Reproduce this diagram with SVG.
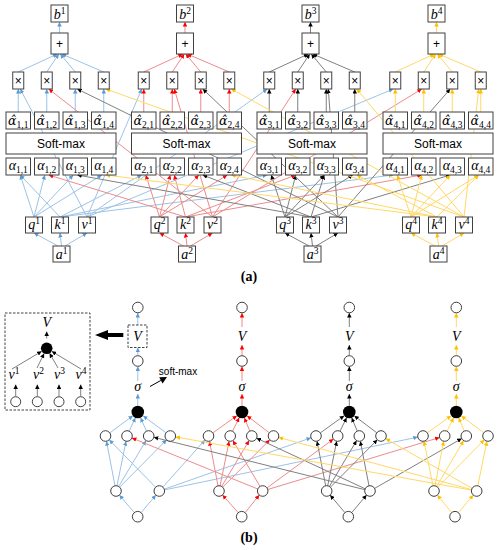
<svg xmlns="http://www.w3.org/2000/svg" width="499" height="550" viewBox="0 0 499 550">
<style>
line{stroke-width:1;fill:none}
.cb{stroke:#9DC3E6;marker-end:url(#ab)}
.cr{stroke:#EC8C8C;marker-end:url(#ar)}
.cg{stroke:#808080;marker-end:url(#ag)}
.cy{stroke:#FFD966;marker-end:url(#ay)}
.bx{fill:#fff;stroke:#404040;stroke-width:1}
.cc{fill:#fff;stroke:#404040;stroke-width:1}
.bk{fill:#000}
.ds{fill:none;stroke:#404040;stroke-width:1;stroke-dasharray:2.5,1.5}
.m{font-family:"Liberation Serif",serif;font-style:italic;font-size:14px;fill:#000}
.ht{font-family:"DejaVu Serif",serif;font-size:12.5px}
.sb{font-size:9.5px;font-style:normal}
.sp{font-size:9.5px;font-style:normal}
.sans{font-family:"Liberation Sans",sans-serif;fill:#000}
.op{font-family:"Liberation Sans",sans-serif;font-size:12px;fill:#000}
.cap{font-family:"Liberation Serif",serif;font-weight:bold;font-size:14px;fill:#000}
text{text-anchor:middle}
</style>
<defs>
<marker id="ab" markerUnits="userSpaceOnUse" markerWidth="4.5" markerHeight="4.5" viewBox="0 0 10 10" refX="10" refY="5" orient="auto"><path d="M0,0 L10,5 L0,10z" fill="#5B9BD5"/></marker>
<marker id="ar" markerUnits="userSpaceOnUse" markerWidth="4.5" markerHeight="4.5" viewBox="0 0 10 10" refX="10" refY="5" orient="auto"><path d="M0,0 L10,5 L0,10z" fill="#FF0000"/></marker>
<marker id="ag" markerUnits="userSpaceOnUse" markerWidth="4.5" markerHeight="4.5" viewBox="0 0 10 10" refX="10" refY="5" orient="auto"><path d="M0,0 L10,5 L0,10z" fill="#000"/></marker>
<marker id="ay" markerUnits="userSpaceOnUse" markerWidth="4.5" markerHeight="4.5" viewBox="0 0 10 10" refX="10" refY="5" orient="auto"><path d="M0,0 L10,5 L0,10z" fill="#FFC000"/></marker>
</defs>
<rect width="499" height="550" fill="#fff"/>

<g id="connectors">
<g id="conn-a">
<line class="cb" x1="58" y1="246" x2="34" y2="233"/>
<line class="cb" x1="61.5" y1="246" x2="60" y2="233"/>
<line class="cb" x1="65" y1="246" x2="87" y2="233"/>
<line class="cb" x1="34" y1="217" x2="20.25" y2="175"/>
<line class="cb" x1="34" y1="217" x2="44.75" y2="175"/>
<line class="cb" x1="34" y1="217" x2="73.25" y2="175"/>
<line class="cb" x1="34" y1="217" x2="101.75" y2="175"/>
<line class="cb" x1="60" y1="217" x2="20.25" y2="175"/>
<line class="cb" x1="60" y1="217" x2="141.75" y2="175"/>
<line class="cb" x1="60" y1="217" x2="267.25" y2="175"/>
<line class="cb" x1="60" y1="217" x2="393.25" y2="175"/>
<line class="cb" x1="87" y1="217" x2="20.25" y2="89"/>
<line class="cb" x1="87" y1="217" x2="141.75" y2="89"/>
<line class="cb" x1="87" y1="217" x2="267.25" y2="89"/>
<line class="cb" x1="87" y1="217" x2="393.25" y2="89"/>
<line class="cb" x1="18.25" y1="112" x2="18.25" y2="89"/>
<line class="cb" x1="46.75" y1="112" x2="46.75" y2="89"/>
<line class="cb" x1="75.25" y1="112" x2="75.25" y2="89"/>
<line class="cb" x1="103.75" y1="112" x2="103.75" y2="89"/>
<line class="cb" x1="18.25" y1="72" x2="57.25" y2="54"/>
<line class="cb" x1="46.75" y1="72" x2="58.75" y2="54"/>
<line class="cb" x1="75.25" y1="72" x2="60.25" y2="54"/>
<line class="cb" x1="103.75" y1="72" x2="61.75" y2="54"/>
<line class="cb" x1="59.5" y1="33" x2="59.5" y2="22"/>
<line class="cr" x1="183.5" y1="246" x2="159.5" y2="233"/>
<line class="cr" x1="187" y1="246" x2="185.5" y2="233"/>
<line class="cr" x1="190.5" y1="246" x2="212.5" y2="233"/>
<line class="cr" x1="159.5" y1="217" x2="145.75" y2="175"/>
<line class="cr" x1="159.5" y1="217" x2="170.25" y2="175"/>
<line class="cr" x1="159.5" y1="217" x2="198.75" y2="175"/>
<line class="cr" x1="159.5" y1="217" x2="227.25" y2="175"/>
<line class="cr" x1="185.5" y1="217" x2="48.75" y2="175"/>
<line class="cr" x1="185.5" y1="217" x2="174.25" y2="175"/>
<line class="cr" x1="185.5" y1="217" x2="295.75" y2="175"/>
<line class="cr" x1="185.5" y1="217" x2="421.75" y2="175"/>
<line class="cr" x1="212.5" y1="217" x2="48.75" y2="89"/>
<line class="cr" x1="212.5" y1="217" x2="174.25" y2="89"/>
<line class="cr" x1="212.5" y1="217" x2="295.75" y2="89"/>
<line class="cr" x1="212.5" y1="217" x2="421.75" y2="89"/>
<line class="cr" x1="143.75" y1="112" x2="143.75" y2="89"/>
<line class="cr" x1="172.25" y1="112" x2="172.25" y2="89"/>
<line class="cr" x1="200.75" y1="112" x2="200.75" y2="89"/>
<line class="cr" x1="229.25" y1="112" x2="229.25" y2="89"/>
<line class="cr" x1="143.75" y1="72" x2="182.75" y2="54"/>
<line class="cr" x1="172.25" y1="72" x2="184.25" y2="54"/>
<line class="cr" x1="200.75" y1="72" x2="185.75" y2="54"/>
<line class="cr" x1="229.25" y1="72" x2="187.25" y2="54"/>
<line class="cr" x1="185" y1="33" x2="185" y2="22"/>
<line class="cg" x1="309" y1="246" x2="285" y2="233"/>
<line class="cg" x1="312.5" y1="246" x2="311" y2="233"/>
<line class="cg" x1="316" y1="246" x2="338" y2="233"/>
<line class="cg" x1="285" y1="217" x2="271.25" y2="175"/>
<line class="cg" x1="285" y1="217" x2="295.75" y2="175"/>
<line class="cg" x1="285" y1="217" x2="324.25" y2="175"/>
<line class="cg" x1="285" y1="217" x2="352.75" y2="175"/>
<line class="cg" x1="311" y1="217" x2="77.25" y2="175"/>
<line class="cg" x1="311" y1="217" x2="202.75" y2="175"/>
<line class="cg" x1="311" y1="217" x2="324.25" y2="175"/>
<line class="cg" x1="311" y1="217" x2="450.25" y2="175"/>
<line class="cg" x1="338" y1="217" x2="77.25" y2="89"/>
<line class="cg" x1="338" y1="217" x2="202.75" y2="89"/>
<line class="cg" x1="338" y1="217" x2="328.25" y2="89"/>
<line class="cg" x1="338" y1="217" x2="450.25" y2="89"/>
<line class="cg" x1="269.25" y1="112" x2="269.25" y2="89"/>
<line class="cg" x1="297.75" y1="112" x2="297.75" y2="89"/>
<line class="cg" x1="326.25" y1="112" x2="326.25" y2="89"/>
<line class="cg" x1="354.75" y1="112" x2="354.75" y2="89"/>
<line class="cg" x1="269.25" y1="72" x2="308.25" y2="54"/>
<line class="cg" x1="297.75" y1="72" x2="309.75" y2="54"/>
<line class="cg" x1="326.25" y1="72" x2="311.25" y2="54"/>
<line class="cg" x1="354.75" y1="72" x2="312.75" y2="54"/>
<line class="cg" x1="310.5" y1="33" x2="310.5" y2="22"/>
<line class="cy" x1="435" y1="246" x2="411" y2="233"/>
<line class="cy" x1="438.5" y1="246" x2="437" y2="233"/>
<line class="cy" x1="442" y1="246" x2="464" y2="233"/>
<line class="cy" x1="411" y1="217" x2="397.25" y2="175"/>
<line class="cy" x1="411" y1="217" x2="421.75" y2="175"/>
<line class="cy" x1="411" y1="217" x2="450.25" y2="175"/>
<line class="cy" x1="411" y1="217" x2="478.75" y2="175"/>
<line class="cy" x1="437" y1="217" x2="105.75" y2="175"/>
<line class="cy" x1="437" y1="217" x2="231.25" y2="175"/>
<line class="cy" x1="437" y1="217" x2="356.75" y2="175"/>
<line class="cy" x1="437" y1="217" x2="478.75" y2="175"/>
<line class="cy" x1="464" y1="217" x2="105.75" y2="89"/>
<line class="cy" x1="464" y1="217" x2="231.25" y2="89"/>
<line class="cy" x1="464" y1="217" x2="356.75" y2="89"/>
<line class="cy" x1="464" y1="217" x2="478.75" y2="89"/>
<line class="cy" x1="395.25" y1="112" x2="395.25" y2="89"/>
<line class="cy" x1="423.75" y1="112" x2="423.75" y2="89"/>
<line class="cy" x1="452.25" y1="112" x2="452.25" y2="89"/>
<line class="cy" x1="480.75" y1="112" x2="480.75" y2="89"/>
<line class="cy" x1="395.25" y1="72" x2="434.25" y2="54"/>
<line class="cy" x1="423.75" y1="72" x2="435.75" y2="54"/>
<line class="cy" x1="452.25" y1="72" x2="437.25" y2="54"/>
<line class="cy" x1="480.75" y1="72" x2="438.75" y2="54"/>
<line class="cy" x1="436.5" y1="33" x2="436.5" y2="22"/>
</g>
<g id="conn-b">
<line class="cb" x1="134.3" y1="512.6" x2="119.4" y2="495.1"/>
<line class="cb" x1="141.1" y1="512.6" x2="155.9" y2="495.1"/>
<line class="cb" x1="115" y1="485.8" x2="106.5" y2="441.2"/>
<line class="cb" x1="117" y1="485.8" x2="126" y2="441.2"/>
<line class="cb" x1="118.7" y1="486.4" x2="146" y2="440.6"/>
<line class="cb" x1="119.7" y1="487.2" x2="166.6" y2="439.8"/>
<line class="cb" x1="155.6" y1="487.2" x2="109.2" y2="439.8"/>
<line class="cb" x1="162.8" y1="487.1" x2="205" y2="439.9"/>
<line class="cb" x1="164.3" y1="489.2" x2="311" y2="437.8"/>
<line class="cb" x1="164.5" y1="489.9" x2="417.8" y2="437.1"/>
<line class="cb" x1="109.8" y1="432.9" x2="132.9" y2="415.7"/>
<line class="cb" x1="129.2" y1="431.2" x2="135.4" y2="417.7"/>
<line class="cb" x1="146.5" y1="431.2" x2="140.6" y2="417.8"/>
<line class="cb" x1="166" y1="432.8" x2="143.1" y2="415.8"/>
<line class="cb" x1="137.8" y1="405.5" x2="137.8" y2="394"/>
<line class="cb" x1="137.8" y1="381" x2="137.8" y2="366.5"/>
<line class="cb" x1="137.8" y1="355.5" x2="137.8" y2="347.7"/>
<line class="cb" x1="137.8" y1="325" x2="137.8" y2="313"/>
<line class="cr" x1="238.2" y1="512.7" x2="222.5" y2="495"/>
<line class="cr" x1="245.1" y1="512.6" x2="259.3" y2="495.1"/>
<line class="cr" x1="218" y1="485.8" x2="209.5" y2="441.2"/>
<line class="cr" x1="220.1" y1="485.8" x2="229.1" y2="441.2"/>
<line class="cr" x1="221.7" y1="486.4" x2="249.1" y2="440.6"/>
<line class="cr" x1="222.7" y1="487.2" x2="269.8" y2="439.8"/>
<line class="cr" x1="257.8" y1="489" x2="131.9" y2="438"/>
<line class="cr" x1="260" y1="486.4" x2="232.9" y2="440.6"/>
<line class="cr" x1="267" y1="487.9" x2="333.4" y2="439.1"/>
<line class="cr" x1="267.8" y1="489.5" x2="439.6" y2="437.5"/>
<line class="cr" x1="212.8" y1="432.9" x2="236.9" y2="415.7"/>
<line class="cr" x1="232.5" y1="431.2" x2="239.2" y2="417.7"/>
<line class="cr" x1="249.8" y1="431.1" x2="244.4" y2="417.8"/>
<line class="cr" x1="269.3" y1="432.8" x2="247" y2="415.8"/>
<line class="cr" x1="242" y1="405.5" x2="242" y2="394"/>
<line class="cr" x1="242" y1="381" x2="242" y2="366.5"/>
<line class="cr" x1="242" y1="355.5" x2="242" y2="345"/>
<line class="cr" x1="242" y1="327" x2="242" y2="313"/>
<line class="cg" x1="344.9" y1="512.6" x2="330.1" y2="495.1"/>
<line class="cg" x1="351.7" y1="512.6" x2="366.6" y2="495.1"/>
<line class="cg" x1="325.7" y1="485.8" x2="317" y2="441.2"/>
<line class="cg" x1="327.7" y1="485.8" x2="336.7" y2="441.2"/>
<line class="cg" x1="329.4" y1="486.4" x2="356.6" y2="440.6"/>
<line class="cg" x1="330.4" y1="487.2" x2="377.3" y2="439.8"/>
<line class="cg" x1="364.9" y1="489.7" x2="153.8" y2="437.3"/>
<line class="cg" x1="365.2" y1="488.8" x2="256.6" y2="438.2"/>
<line class="cg" x1="369" y1="485.8" x2="360.3" y2="441.2"/>
<line class="cg" x1="374.6" y1="488.4" x2="461.7" y2="438.6"/>
<line class="cg" x1="320.3" y1="432.9" x2="344.2" y2="415.7"/>
<line class="cg" x1="340" y1="431.2" x2="346.6" y2="417.7"/>
<line class="cg" x1="357.3" y1="431.1" x2="351.7" y2="417.8"/>
<line class="cg" x1="376.8" y1="432.8" x2="354.3" y2="415.8"/>
<line class="cg" x1="349.3" y1="405.5" x2="349.3" y2="394"/>
<line class="cg" x1="349.3" y1="381" x2="349.3" y2="366.5"/>
<line class="cg" x1="349.3" y1="355.5" x2="349.3" y2="345"/>
<line class="cg" x1="349.3" y1="327" x2="349.3" y2="313"/>
<line class="cy" x1="451.6" y1="512.6" x2="437.4" y2="495.1"/>
<line class="cy" x1="458.4" y1="512.6" x2="473.3" y2="495.1"/>
<line class="cy" x1="433" y1="485.8" x2="424" y2="441.2"/>
<line class="cy" x1="435" y1="485.8" x2="443.7" y2="441.2"/>
<line class="cy" x1="436.7" y1="486.4" x2="463.6" y2="440.6"/>
<line class="cy" x1="437.7" y1="487.2" x2="484.3" y2="439.8"/>
<line class="cy" x1="471.5" y1="490.1" x2="175.5" y2="436.9"/>
<line class="cy" x1="471.6" y1="489.6" x2="278.6" y2="437.4"/>
<line class="cy" x1="472.1" y1="488.4" x2="385.6" y2="438.6"/>
<line class="cy" x1="477.8" y1="485.8" x2="486.9" y2="441.2"/>
<line class="cy" x1="427.3" y1="432.9" x2="451.2" y2="415.7"/>
<line class="cy" x1="447" y1="431.2" x2="453.6" y2="417.7"/>
<line class="cy" x1="464.3" y1="431.1" x2="458.7" y2="417.8"/>
<line class="cy" x1="483.8" y1="432.8" x2="461.3" y2="415.8"/>
<line class="cy" x1="456.3" y1="405.5" x2="456.3" y2="394"/>
<line class="cy" x1="456.3" y1="381" x2="456.3" y2="366.5"/>
<line class="cy" x1="456.3" y1="355.5" x2="456.3" y2="345"/>
<line class="cy" x1="456.3" y1="327" x2="456.3" y2="313"/>
<line class="cg" x1="12" y1="369" x2="41.7" y2="351.3"/>
<line class="cg" x1="37" y1="368" x2="44.1" y2="353.5"/>
<line class="cg" x1="58" y1="368" x2="49.6" y2="353.3"/>
<line class="cg" x1="81" y1="369" x2="51.7" y2="351.3"/>
<line class="cg" x1="46.7" y1="338.5" x2="46.7" y2="331.5"/>
<line class="cg" x1="15.7" y1="396" x2="15.7" y2="384.5"/>
<line class="cg" x1="37.3" y1="396" x2="37.3" y2="384.5"/>
<line class="cg" x1="59" y1="396" x2="59" y2="384.5"/>
<line class="cg" x1="80.7" y1="396" x2="80.7" y2="384.5"/>
</g>
</g>

<g id="g1">
<g id="b1"><rect class="bx" x="51" y="5" width="17" height="17"/><text class="m" x="59.5" y="18.5">b<tspan class="sp" dy="-5">1</tspan></text></g>
<g id="plus1"><rect class="bx" x="51" y="33" width="17" height="21"/><text class="op" x="59.5" y="48">+</text></g>
<g id="x11"><rect class="bx" x="12.75" y="72" width="11" height="17"/><text class="op" x="18.25" y="84.5">×</text></g>
<g id="x12"><rect class="bx" x="41.25" y="72" width="11" height="17"/><text class="op" x="46.75" y="84.5">×</text></g>
<g id="x13"><rect class="bx" x="69.75" y="72" width="11" height="17"/><text class="op" x="75.25" y="84.5">×</text></g>
<g id="x14"><rect class="bx" x="98.25" y="72" width="11" height="17"/><text class="op" x="103.75" y="84.5">×</text></g>
<g id="ah11"><rect class="bx" x="6" y="112" width="24.5" height="17"/><text class="m" x="18.25" y="124.5"><tspan class="ht">α̂</tspan><tspan class="sb" dy="3">1,1</tspan></text></g>
<g id="ah12"><rect class="bx" x="34.5" y="112" width="24.5" height="17"/><text class="m" x="46.75" y="124.5"><tspan class="ht">α̂</tspan><tspan class="sb" dy="3">1,2</tspan></text></g>
<g id="ah13"><rect class="bx" x="63" y="112" width="24.5" height="17"/><text class="m" x="75.25" y="124.5"><tspan class="ht">α̂</tspan><tspan class="sb" dy="3">1,3</tspan></text></g>
<g id="ah14"><rect class="bx" x="91.5" y="112" width="24.5" height="17"/><text class="m" x="103.75" y="124.5"><tspan class="ht">α̂</tspan><tspan class="sb" dy="3">1,4</tspan></text></g>
<g id="sm1"><rect class="bx" x="6" y="133" width="110" height="21"/><text class="sans" font-size="12" x="61" y="148">Soft-max</text></g>
<g id="a11"><rect class="bx" x="6" y="158" width="24.5" height="17"/><text class="m" x="18.25" y="170">α<tspan class="sb" dy="3">1,1</tspan></text></g>
<g id="a12"><rect class="bx" x="34.5" y="158" width="24.5" height="17"/><text class="m" x="46.75" y="170">α<tspan class="sb" dy="3">1,2</tspan></text></g>
<g id="a13"><rect class="bx" x="63" y="158" width="24.5" height="17"/><text class="m" x="75.25" y="170">α<tspan class="sb" dy="3">1,3</tspan></text></g>
<g id="a14"><rect class="bx" x="91.5" y="158" width="24.5" height="17"/><text class="m" x="103.75" y="170">α<tspan class="sb" dy="3">1,4</tspan></text></g>
<g id="q1"><rect class="bx" x="25.5" y="217" width="17" height="16"/><text class="m" x="34" y="228.5">q<tspan class="sp" dy="-5">1</tspan></text></g>
<g id="k1"><rect class="bx" x="51.5" y="217" width="17" height="16"/><text class="m" x="60" y="229">k<tspan class="sp" dy="-5">1</tspan></text></g>
<g id="v1"><rect class="bx" x="78.5" y="217" width="17" height="16"/><text class="m" x="87" y="229">v<tspan class="sp" dy="-5">1</tspan></text></g>
<g id="in1"><rect class="bx" x="53" y="246" width="17" height="16"/><text class="m" x="61.5" y="258.5">a<tspan class="sp" dy="-5">1</tspan></text></g>
</g>

<g id="g2">
<g id="b2"><rect class="bx" x="176.5" y="5" width="17" height="17"/><text class="m" x="185" y="18.5">b<tspan class="sp" dy="-5">2</tspan></text></g>
<g id="plus2"><rect class="bx" x="176.5" y="33" width="17" height="21"/><text class="op" x="185" y="48">+</text></g>
<g id="x21"><rect class="bx" x="138.25" y="72" width="11" height="17"/><text class="op" x="143.75" y="84.5">×</text></g>
<g id="x22"><rect class="bx" x="166.75" y="72" width="11" height="17"/><text class="op" x="172.25" y="84.5">×</text></g>
<g id="x23"><rect class="bx" x="195.25" y="72" width="11" height="17"/><text class="op" x="200.75" y="84.5">×</text></g>
<g id="x24"><rect class="bx" x="223.75" y="72" width="11" height="17"/><text class="op" x="229.25" y="84.5">×</text></g>
<g id="ah21"><rect class="bx" x="131.5" y="112" width="24.5" height="17"/><text class="m" x="143.75" y="124.5"><tspan class="ht">α̂</tspan><tspan class="sb" dy="3">2,1</tspan></text></g>
<g id="ah22"><rect class="bx" x="160" y="112" width="24.5" height="17"/><text class="m" x="172.25" y="124.5"><tspan class="ht">α̂</tspan><tspan class="sb" dy="3">2,2</tspan></text></g>
<g id="ah23"><rect class="bx" x="188.5" y="112" width="24.5" height="17"/><text class="m" x="200.75" y="124.5"><tspan class="ht">α̂</tspan><tspan class="sb" dy="3">2,3</tspan></text></g>
<g id="ah24"><rect class="bx" x="217" y="112" width="24.5" height="17"/><text class="m" x="229.25" y="124.5"><tspan class="ht">α̂</tspan><tspan class="sb" dy="3">2,4</tspan></text></g>
<g id="sm2"><rect class="bx" x="131.5" y="133" width="110" height="21"/><text class="sans" font-size="12" x="186.5" y="148">Soft-max</text></g>
<g id="a21"><rect class="bx" x="131.5" y="158" width="24.5" height="17"/><text class="m" x="143.75" y="170">α<tspan class="sb" dy="3">2,1</tspan></text></g>
<g id="a22"><rect class="bx" x="160" y="158" width="24.5" height="17"/><text class="m" x="172.25" y="170">α<tspan class="sb" dy="3">2,2</tspan></text></g>
<g id="a23"><rect class="bx" x="188.5" y="158" width="24.5" height="17"/><text class="m" x="200.75" y="170">α<tspan class="sb" dy="3">2,3</tspan></text></g>
<g id="a24"><rect class="bx" x="217" y="158" width="24.5" height="17"/><text class="m" x="229.25" y="170">α<tspan class="sb" dy="3">2,4</tspan></text></g>
<g id="q2"><rect class="bx" x="151" y="217" width="17" height="16"/><text class="m" x="159.5" y="228.5">q<tspan class="sp" dy="-5">2</tspan></text></g>
<g id="k2"><rect class="bx" x="177" y="217" width="17" height="16"/><text class="m" x="185.5" y="229">k<tspan class="sp" dy="-5">2</tspan></text></g>
<g id="v2"><rect class="bx" x="204" y="217" width="17" height="16"/><text class="m" x="212.5" y="229">v<tspan class="sp" dy="-5">2</tspan></text></g>
<g id="in2"><rect class="bx" x="178.5" y="246" width="17" height="16"/><text class="m" x="187" y="258.5">a<tspan class="sp" dy="-5">2</tspan></text></g>
</g>

<g id="g3">
<g id="b3"><rect class="bx" x="302" y="5" width="17" height="17"/><text class="m" x="310.5" y="18.5">b<tspan class="sp" dy="-5">3</tspan></text></g>
<g id="plus3"><rect class="bx" x="302" y="33" width="17" height="21"/><text class="op" x="310.5" y="48">+</text></g>
<g id="x31"><rect class="bx" x="263.75" y="72" width="11" height="17"/><text class="op" x="269.25" y="84.5">×</text></g>
<g id="x32"><rect class="bx" x="292.25" y="72" width="11" height="17"/><text class="op" x="297.75" y="84.5">×</text></g>
<g id="x33"><rect class="bx" x="320.75" y="72" width="11" height="17"/><text class="op" x="326.25" y="84.5">×</text></g>
<g id="x34"><rect class="bx" x="349.25" y="72" width="11" height="17"/><text class="op" x="354.75" y="84.5">×</text></g>
<g id="ah31"><rect class="bx" x="257" y="112" width="24.5" height="17"/><text class="m" x="269.25" y="124.5"><tspan class="ht">α̂</tspan><tspan class="sb" dy="3">3,1</tspan></text></g>
<g id="ah32"><rect class="bx" x="285.5" y="112" width="24.5" height="17"/><text class="m" x="297.75" y="124.5"><tspan class="ht">α̂</tspan><tspan class="sb" dy="3">3,2</tspan></text></g>
<g id="ah33"><rect class="bx" x="314" y="112" width="24.5" height="17"/><text class="m" x="326.25" y="124.5"><tspan class="ht">α̂</tspan><tspan class="sb" dy="3">3,3</tspan></text></g>
<g id="ah34"><rect class="bx" x="342.5" y="112" width="24.5" height="17"/><text class="m" x="354.75" y="124.5"><tspan class="ht">α̂</tspan><tspan class="sb" dy="3">3,4</tspan></text></g>
<g id="sm3"><rect class="bx" x="257" y="133" width="110" height="21"/><text class="sans" font-size="12" x="312" y="148">Soft-max</text></g>
<g id="a31"><rect class="bx" x="257" y="158" width="24.5" height="17"/><text class="m" x="269.25" y="170">α<tspan class="sb" dy="3">3,1</tspan></text></g>
<g id="a32"><rect class="bx" x="285.5" y="158" width="24.5" height="17"/><text class="m" x="297.75" y="170">α<tspan class="sb" dy="3">3,2</tspan></text></g>
<g id="a33"><rect class="bx" x="314" y="158" width="24.5" height="17"/><text class="m" x="326.25" y="170">α<tspan class="sb" dy="3">3,3</tspan></text></g>
<g id="a34"><rect class="bx" x="342.5" y="158" width="24.5" height="17"/><text class="m" x="354.75" y="170">α<tspan class="sb" dy="3">3,4</tspan></text></g>
<g id="q3"><rect class="bx" x="276.5" y="217" width="17" height="16"/><text class="m" x="285" y="228.5">q<tspan class="sp" dy="-5">3</tspan></text></g>
<g id="k3"><rect class="bx" x="302.5" y="217" width="17" height="16"/><text class="m" x="311" y="229">k<tspan class="sp" dy="-5">3</tspan></text></g>
<g id="v3"><rect class="bx" x="329.5" y="217" width="17" height="16"/><text class="m" x="338" y="229">v<tspan class="sp" dy="-5">3</tspan></text></g>
<g id="in3"><rect class="bx" x="304" y="246" width="17" height="16"/><text class="m" x="312.5" y="258.5">a<tspan class="sp" dy="-5">3</tspan></text></g>
</g>

<g id="g4">
<g id="b4"><rect class="bx" x="428" y="5" width="17" height="17"/><text class="m" x="436.5" y="18.5">b<tspan class="sp" dy="-5">4</tspan></text></g>
<g id="plus4"><rect class="bx" x="428" y="33" width="17" height="21"/><text class="op" x="436.5" y="48">+</text></g>
<g id="x41"><rect class="bx" x="389.75" y="72" width="11" height="17"/><text class="op" x="395.25" y="84.5">×</text></g>
<g id="x42"><rect class="bx" x="418.25" y="72" width="11" height="17"/><text class="op" x="423.75" y="84.5">×</text></g>
<g id="x43"><rect class="bx" x="446.75" y="72" width="11" height="17"/><text class="op" x="452.25" y="84.5">×</text></g>
<g id="x44"><rect class="bx" x="475.25" y="72" width="11" height="17"/><text class="op" x="480.75" y="84.5">×</text></g>
<g id="ah41"><rect class="bx" x="383" y="112" width="24.5" height="17"/><text class="m" x="395.25" y="124.5"><tspan class="ht">α̂</tspan><tspan class="sb" dy="3">4,1</tspan></text></g>
<g id="ah42"><rect class="bx" x="411.5" y="112" width="24.5" height="17"/><text class="m" x="423.75" y="124.5"><tspan class="ht">α̂</tspan><tspan class="sb" dy="3">4,2</tspan></text></g>
<g id="ah43"><rect class="bx" x="440" y="112" width="24.5" height="17"/><text class="m" x="452.25" y="124.5"><tspan class="ht">α̂</tspan><tspan class="sb" dy="3">4,3</tspan></text></g>
<g id="ah44"><rect class="bx" x="468.5" y="112" width="24.5" height="17"/><text class="m" x="480.75" y="124.5"><tspan class="ht">α̂</tspan><tspan class="sb" dy="3">4,4</tspan></text></g>
<g id="sm4"><rect class="bx" x="383" y="133" width="110" height="21"/><text class="sans" font-size="12" x="438" y="148">Soft-max</text></g>
<g id="a41"><rect class="bx" x="383" y="158" width="24.5" height="17"/><text class="m" x="395.25" y="170">α<tspan class="sb" dy="3">4,1</tspan></text></g>
<g id="a42"><rect class="bx" x="411.5" y="158" width="24.5" height="17"/><text class="m" x="423.75" y="170">α<tspan class="sb" dy="3">4,2</tspan></text></g>
<g id="a43"><rect class="bx" x="440" y="158" width="24.5" height="17"/><text class="m" x="452.25" y="170">α<tspan class="sb" dy="3">4,3</tspan></text></g>
<g id="a44"><rect class="bx" x="468.5" y="158" width="24.5" height="17"/><text class="m" x="480.75" y="170">α<tspan class="sb" dy="3">4,4</tspan></text></g>
<g id="q4"><rect class="bx" x="402.5" y="217" width="17" height="16"/><text class="m" x="411" y="228.5">q<tspan class="sp" dy="-5">4</tspan></text></g>
<g id="k4"><rect class="bx" x="428.5" y="217" width="17" height="16"/><text class="m" x="437" y="229">k<tspan class="sp" dy="-5">4</tspan></text></g>
<g id="v4"><rect class="bx" x="455.5" y="217" width="17" height="16"/><text class="m" x="464" y="229">v<tspan class="sp" dy="-5">4</tspan></text></g>
<g id="in4"><rect class="bx" x="430" y="246" width="17" height="16"/><text class="m" x="438.5" y="258.5">a<tspan class="sp" dy="-5">4</tspan></text></g>
</g>

<text id="cap-a" class="cap" x="249" y="281">(a)</text>

<g id="bcol1">
<circle class="cc" cx="137.8" cy="307.5" r="5.3"/>
<rect class="ds" x="128" y="325" width="19" height="22.5"/>
<text class="m" x="137.5" y="340.5">V</text>
<circle class="cc" cx="137.8" cy="361" r="5.3"/>
<text class="m" x="137.8" y="390.5">σ</text>
<circle class="bk" cx="137.8" cy="412" r="6.3"/>
</g>
<g id="bcol2">
<circle class="cc" cx="242" cy="307.5" r="5.3"/>
<text class="m" x="242" y="340.5">V</text>
<circle class="cc" cx="242" cy="361" r="5.3"/>
<text class="m" x="242" y="390.5">σ</text>
<circle class="bk" cx="242" cy="412" r="6.3"/>
</g>
<g id="bcol3">
<circle class="cc" cx="349.3" cy="307.5" r="5.3"/>
<text class="m" x="349.3" y="340.5">V</text>
<circle class="cc" cx="349.3" cy="361" r="5.3"/>
<text class="m" x="349.3" y="390.5">σ</text>
<circle class="bk" cx="349.3" cy="412" r="6.3"/>
</g>
<g id="bcol4">
<circle class="cc" cx="456.3" cy="307.5" r="5.3"/>
<text class="m" x="456.3" y="340.5">V</text>
<circle class="cc" cx="456.3" cy="361" r="5.3"/>
<text class="m" x="456.3" y="390.5">σ</text>
<circle class="bk" cx="456.3" cy="412" r="6.3"/>
</g>
<g id="bnodes">
<circle class="cc" cx="105.5" cy="436" r="5.3"/><circle class="cc" cx="127" cy="436" r="5.3"/><circle class="cc" cx="148.7" cy="436" r="5.3"/><circle class="cc" cx="170.3" cy="436" r="5.3"/>
<circle class="cc" cx="208.5" cy="436" r="5.3"/><circle class="cc" cx="230.2" cy="436" r="5.3"/><circle class="cc" cx="251.8" cy="436" r="5.3"/><circle class="cc" cx="273.5" cy="436" r="5.3"/>
<circle class="cc" cx="316" cy="436" r="5.3"/><circle class="cc" cx="337.7" cy="436" r="5.3"/><circle class="cc" cx="359.3" cy="436" r="5.3"/><circle class="cc" cx="381" cy="436" r="5.3"/>
<circle class="cc" cx="423" cy="436" r="5.3"/><circle class="cc" cx="444.7" cy="436" r="5.3"/><circle class="cc" cx="466.3" cy="436" r="5.3"/><circle class="cc" cx="488" cy="436" r="5.3"/>
<circle class="cc" cx="116" cy="491" r="5.3"/><circle class="cc" cx="159.3" cy="491" r="5.3"/>
<circle class="cc" cx="219" cy="491" r="5.3"/><circle class="cc" cx="262.7" cy="491" r="5.3"/>
<circle class="cc" cx="326.7" cy="491" r="5.3"/><circle class="cc" cx="370" cy="491" r="5.3"/>
<circle class="cc" cx="434" cy="491" r="5.3"/><circle class="cc" cx="476.7" cy="491" r="5.3"/>
<circle class="cc" cx="137.7" cy="516.7" r="5.3"/><circle class="cc" cx="241.7" cy="516.7" r="5.3"/><circle class="cc" cx="348.3" cy="516.7" r="5.3"/><circle class="cc" cx="455" cy="516.7" r="5.3"/>
</g>

<g id="inset">
<rect class="ds" x="5" y="313" width="85" height="97"/>
<text class="m" x="46.7" y="326.5">V</text>
<circle class="bk" cx="46.7" cy="348.3" r="5.8"/>
<text class="m" x="14" y="379">v<tspan class="sp" dy="-5">1</tspan></text>
<text class="m" x="38.5" y="379">v<tspan class="sp" dy="-5">2</tspan></text>
<text class="m" x="59.5" y="379">v<tspan class="sp" dy="-5">3</tspan></text>
<text class="m" x="81" y="379">v<tspan class="sp" dy="-5">4</tspan></text>
<circle class="cc" cx="15.7" cy="401.7" r="5"/><circle class="cc" cx="37.3" cy="401.7" r="5"/><circle class="cc" cx="59" cy="401.7" r="5"/><circle class="cc" cx="80.7" cy="401.7" r="5"/>
</g>
<g id="zoom-arrow"><polygon points="123.3,333 108,333 108,330 95,335 108,340 108,337 123.3,337" fill="#000"/></g>
<g id="softmax-label">
<line x1="150" y1="386.5" x2="160.9" y2="380.4" stroke="#000" stroke-width="3"/>
<polygon points="167,377 162.6,383.5 159.2,377.3" fill="#000"/>
<text class="sans" font-size="10" x="178" y="374.5">soft-max</text>
</g>
<text id="cap-b" class="cap" x="249" y="542">(b)</text>
</svg>
